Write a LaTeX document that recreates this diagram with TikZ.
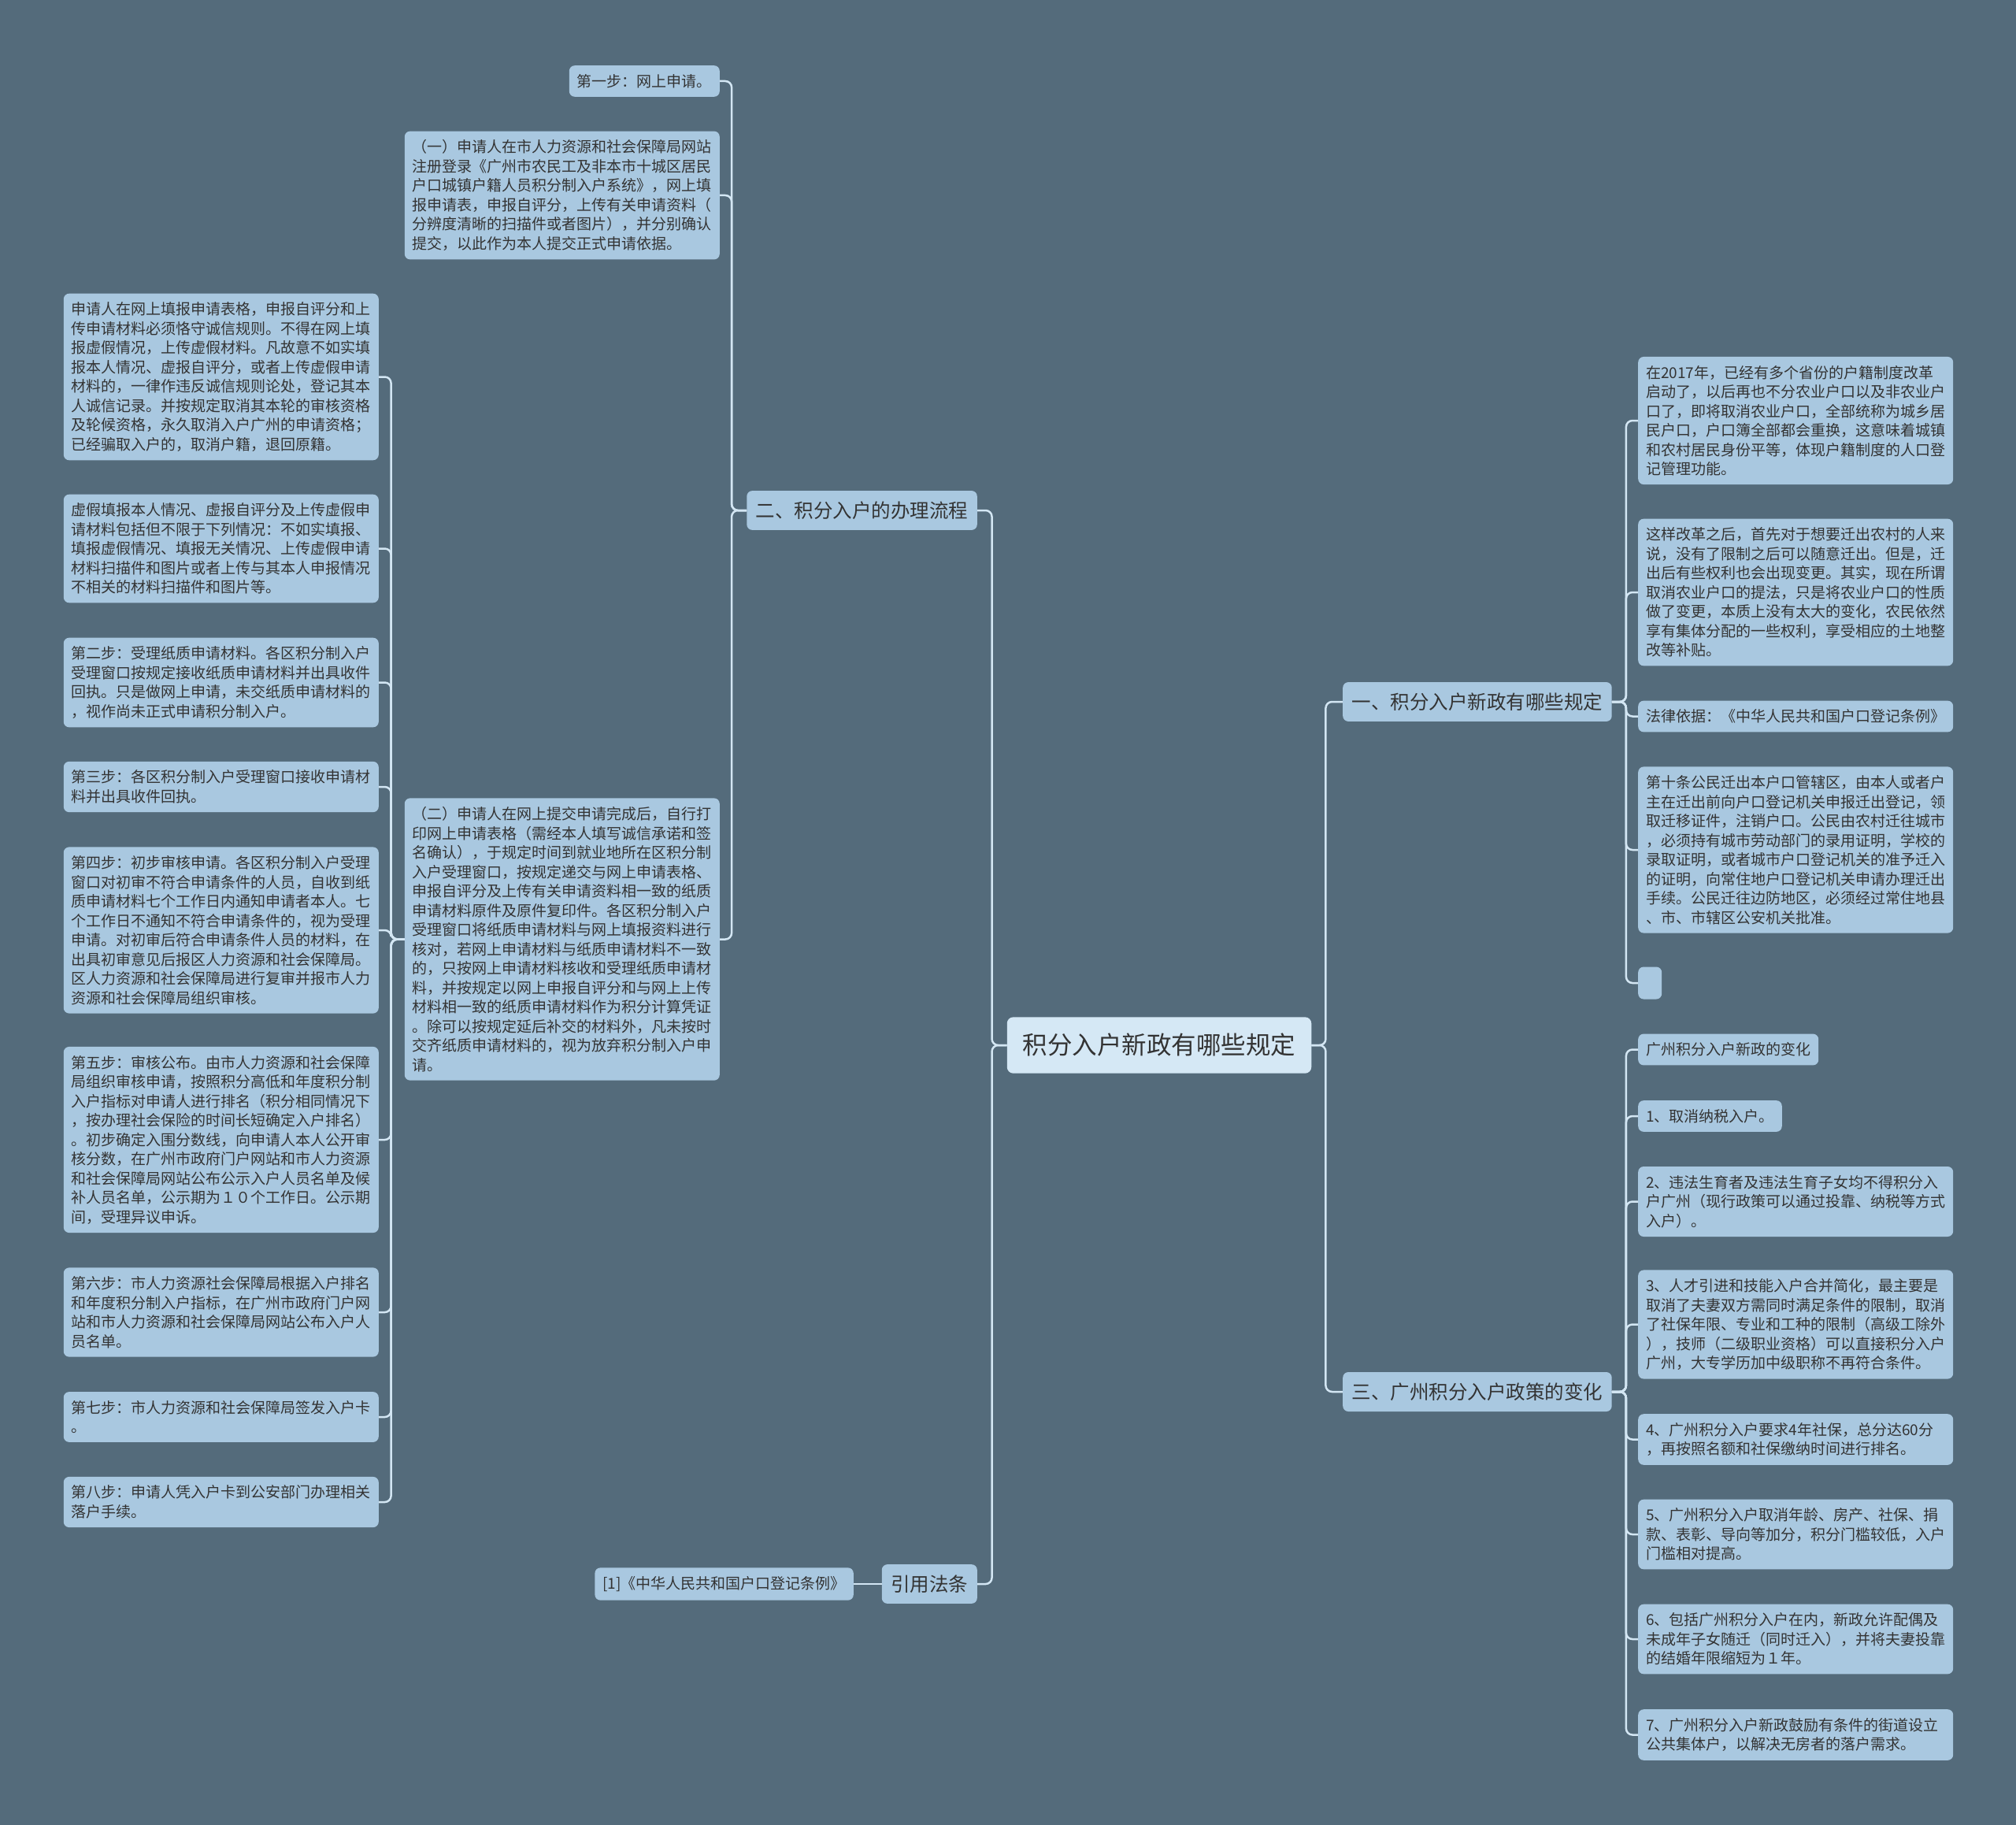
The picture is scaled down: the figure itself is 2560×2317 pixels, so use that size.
\documentclass[tikz,border=0pt]{standalone}
\usepackage{fontspec}
\setmainfont{Noto Sans CJK SC}
\usepackage{tikz}

\definecolor{bgcol}{HTML}{546B7B}
\definecolor{boxcol}{HTML}{A9C8E0}
\definecolor{rootcol}{HTML}{D5E8F5}
\definecolor{linecol}{HTML}{D3E6F3}
\definecolor{txtcol}{HTML}{333333}

\tikzset{
  leaf/.style={fill=boxcol, rounded corners=7pt, text=txtcol, align=left,
    font=\fontsize{19}{24.5}\selectfont, inner xsep=10pt, inner ysep=11pt},
  wide/.style={leaf, text width=380pt},
  branch/.style={fill=boxcol, rounded corners=7pt, text=txtcol,
    font=\fontsize{24.5}{28}\selectfont, inner xsep=11.5pt, inner ysep=13.5pt},
  rootbox/.style={fill=rootcol, rounded corners=8pt, text=txtcol,
    font=\fontsize{31.5}{36}\selectfont, inner xsep=20pt, inner ysep=21pt},
  link/.style={draw=linecol, line width=2.5pt, rounded corners=8pt}
}

\begin{document}
\begin{tikzpicture}[x=1pt, y=-1pt]
    \fill[bgcol] (0,0) rectangle (2560,2317);
    \useasboundingbox (0,0) rectangle (2560,2317);

    % centre and first level
    \node[rootbox] (root) at (1472,1327) {积分入户新政有哪些规定};
    \node[branch, anchor=east] (flow) at (1241,648) {二、积分入户的办理流程};
    \node[branch, anchor=east] (cite) at (1241,2011) {引用法条};
    \node[branch, anchor=west] (rule) at (1705,891) {一、积分入户新政有哪些规定};
    \node[branch, anchor=west] (change) at (1705,1767) {三、广州积分入户政策的变化};

    % 办理流程
    \node[leaf, anchor=east] (step1) at (914,103) {第一步：网上申请。};
    \node[wide, anchor=east] (apply1) at (914,248) {（一）申请人在市人力资源和社会保障局网站\\注册登录《广州市农民工及非本市十城区居民\\户口城镇户籍人员积分制入户系统》，网上填\\报申请表，申报自评分，上传有关申请资料（\\分辨度清晰的扫描件或者图片），并分别确认\\提交，以此作为本人提交正式申请依据。};
    \node[wide, anchor=east] (apply2) at (914,1192.5) {（二）申请人在网上提交申请完成后，自行打\\印网上申请表格（需经本人填写诚信承诺和签\\名确认），于规定时间到就业地所在区积分制\\入户受理窗口，按规定递交与网上申请表格、\\申报自评分及上传有关申请资料相一致的纸质\\申请材料原件及原件复印件。各区积分制入户\\受理窗口将纸质申请材料与网上填报资料进行\\核对，若网上申请材料与纸质申请材料不一致\\的，只按网上申请材料核收和受理纸质申请材\\料，并按规定以网上申报自评分和与网上上传\\材料相一致的纸质申请材料作为积分计算凭证\\。除可以按规定延后补交的材料外，凡未按时\\交齐纸质申请材料的，视为放弃积分制入户申\\请。};

    \node[wide, anchor=east] (honest) at (481,478.5) {申请人在网上填报申请表格，申报自评分和上\\传申请材料必须恪守诚信规则。不得在网上填\\报虚假情况，上传虚假材料。凡故意不如实填\\报本人情况、虚报自评分，或者上传虚假申请\\材料的，一律作违反诚信规则论处，登记其本\\人诚信记录。并按规定取消其本轮的审核资格\\及轮候资格，永久取消入户广州的申请资格；\\已经骗取入户的，取消户籍，退回原籍。};
    \node[wide, anchor=east] (fake) at (481,696.5) {虚假填报本人情况、虚报自评分及上传虚假申\\请材料包括但不限于下列情况：不如实填报、\\填报虚假情况、填报无关情况、上传虚假申请\\材料扫描件和图片或者上传与其本人申报情况\\不相关的材料扫描件和图片等。};
    \node[wide, anchor=east] (step2) at (481,866.5) {第二步：受理纸质申请材料。各区积分制入户\\受理窗口按规定接收纸质申请材料并出具收件\\回执。只是做网上申请，未交纸质申请材料的\\，视作尚未正式申请积分制入户。};
    \node[wide, anchor=east] (step3) at (481,999) {第三步：各区积分制入户受理窗口接收申请材\\料并出具收件回执。};
    \node[wide, anchor=east] (step4) at (481,1181) {第四步：初步审核申请。各区积分制入户受理\\窗口对初审不符合申请条件的人员，自收到纸\\质申请材料七个工作日内通知申请者本人。七\\个工作日不通知不符合申请条件的，视为受理\\申请。对初审后符合申请条件人员的材料，在\\出具初审意见后报区人力资源和社会保障局。\\区人力资源和社会保障局进行复审并报市人力\\资源和社会保障局组织审核。};
    \node[wide, anchor=east] (step5) at (481,1447) {第五步：审核公布。由市人力资源和社会保障\\局组织审核申请，按照积分高低和年度积分制\\入户指标对申请人进行排名（积分相同情况下\\，按办理社会保险的时间长短确定入户排名）\\。初步确定入围分数线，向申请人本人公开审\\核分数，在广州市政府门户网站和市人力资源\\和社会保障局网站公布公示入户人员名单及候\\补人员名单，公示期为１０个工作日。公示期\\间，受理异议申诉。};
    \node[wide, anchor=east] (step6) at (481,1666) {第六步：市人力资源社会保障局根据入户排名\\和年度积分制入户指标，在广州市政府门户网\\站和市人力资源和社会保障局网站公布入户人\\员名单。};
    \node[wide, anchor=east] (step7) at (481,1799) {第七步：市人力资源和社会保障局签发入户卡\\。};
    \node[wide, anchor=east] (step8) at (481,1907) {第八步：申请人凭入户卡到公安部门办理相关\\落户手续。};

    % 引用法条
    \node[leaf, anchor=east] (book) at (1084,2011) {[1]《中华人民共和国户口登记条例》};

    % 新政规定
    \node[wide, anchor=west] (reform) at (2080,534) {在2017年，已经有多个省份的户籍制度改革\\启动了，以后再也不分农业户口以及非农业户\\口了，即将取消农业户口，全部统称为城乡居\\民户口，户口簿全部都会重换，这意味着城镇\\和农村居民身份平等，体现户籍制度的人口登\\记管理功能。};
    \node[wide, anchor=west] (after) at (2080,752) {这样改革之后，首先对于想要迁出农村的人来\\说，没有了限制之后可以随意迁出。但是，迁\\出后有些权利也会出现变更。其实，现在所谓\\取消农业户口的提法，只是将农业户口的性质\\做了变更，本质上没有太大的变化，农民依然\\享有集体分配的一些权利，享受相应的土地整\\改等补贴。};
    \node[wide, anchor=west] (basis) at (2080,909.5) {法律依据：《中华人民共和国户口登记条例》};
    \node[wide, anchor=west] (art10) at (2080,1079) {第十条公民迁出本户口管辖区，由本人或者户\\主在迁出前向户口登记机关申报迁出登记，领\\取迁移证件，注销户口。公民由农村迁往城市\\，必须持有城市劳动部门的录用证明，学校的\\录取证明，或者城市户口登记机关的准予迁入\\的证明，向常住地户口登记机关申请办理迁出\\手续。公民迁往边防地区，必须经过常住地县\\、市、市辖区公安机关批准。};
    \node[leaf, anchor=west, minimum width=30pt, minimum height=41pt] (blank) at (2080,1248) {};

    % 政策的变化
    \node[leaf, anchor=west] (chg0) at (2080,1332.5) {广州积分入户新政的变化};
    \node[leaf, anchor=west] (chg1) at (2080,1417) {1、取消纳税入户。};
    \node[wide, anchor=west] (chg2) at (2080,1525.5) {2、违法生育者及违法生育子女均不得积分入\\户广州（现行政策可以通过投靠、纳税等方式\\入户）。};
    \node[wide, anchor=west] (chg3) at (2080,1681.5) {3、人才引进和技能入户合并简化，最主要是\\取消了夫妻双方需同时满足条件的限制，取消\\了社保年限、专业和工种的限制（高级工除外\\），技师（二级职业资格）可以直接积分入户\\广州，大专学历加中级职称不再符合条件。};
    \node[wide, anchor=west] (chg4) at (2080,1827.5) {4、广州积分入户要求4年社保，总分达60分\\，再按照名额和社保缴纳时间进行排名。};
    \node[wide, anchor=west] (chg5) at (2080,1948) {5、广州积分入户取消年龄、房产、社保、捐\\款、表彰、导向等加分，积分门槛较低，入户\\门槛相对提高。};
    \node[wide, anchor=west] (chg6) at (2080,2081) {6、包括广州积分入户在内，新政允许配偶及\\未成年子女随迁（同时迁入），并将夫妻投靠\\的结婚年限缩短为１年。};
    \node[wide, anchor=west] (chg7) at (2080,2202.5) {7、广州积分入户新政鼓励有条件的街道设立\\公共集体户，以解决无房者的落户需求。};

    % connectors
    \draw[link] (root.west) -- ++(-19,0) |- (flow.east);
    \draw[link] (root.west) -- ++(-19,0) |- (cite.east);
    \draw[link] (root.east) -- ++(18,0) |- (rule.west);
    \draw[link] (root.east) -- ++(18,0) |- (change.west);

    \draw[link] (flow.west) -- ++(-19,0) |- (step1.east);
    \draw[link] (flow.west) -- ++(-19,0) |- (apply1.east);
    \draw[link] (flow.west) -- ++(-19,0) |- (apply2.east);

    \draw[link] (apply2.west) -- ++(-17,0) |- (honest.east);
    \draw[link] (apply2.west) -- ++(-17,0) |- (fake.east);
    \draw[link] (apply2.west) -- ++(-17,0) |- (step2.east);
    \draw[link] (apply2.west) -- ++(-17,0) |- (step3.east);
    \draw[link] (apply2.west) -- ++(-17,0) |- (step4.east);
    \draw[link] (apply2.west) -- ++(-17,0) |- (step5.east);
    \draw[link] (apply2.west) -- ++(-17,0) |- (step6.east);
    \draw[link] (apply2.west) -- ++(-17,0) |- (step7.east);
    \draw[link] (apply2.west) -- ++(-17,0) |- (step8.east);

    \draw[link] (cite.west) -- (book.east);

    \draw[link] (rule.east) -- ++(18,0) |- (reform.west);
    \draw[link] (rule.east) -- ++(18,0) |- (after.west);
    \draw[link] (rule.east) -- ++(18,0) |- (basis.west);
    \draw[link] (rule.east) -- ++(18,0) |- (art10.west);
    \draw[link] (rule.east) -- ++(18,0) |- (blank.west);

    \draw[link] (change.east) -- ++(18,0) |- (chg0.west);
    \draw[link] (change.east) -- ++(18,0) |- (chg1.west);
    \draw[link] (change.east) -- ++(18,0) |- (chg2.west);
    \draw[link] (change.east) -- ++(18,0) |- (chg3.west);
    \draw[link] (change.east) -- ++(18,0) |- (chg4.west);
    \draw[link] (change.east) -- ++(18,0) |- (chg5.west);
    \draw[link] (change.east) -- ++(18,0) |- (chg6.west);
    \draw[link] (change.east) -- ++(18,0) |- (chg7.west);
\end{tikzpicture}
\end{document}
